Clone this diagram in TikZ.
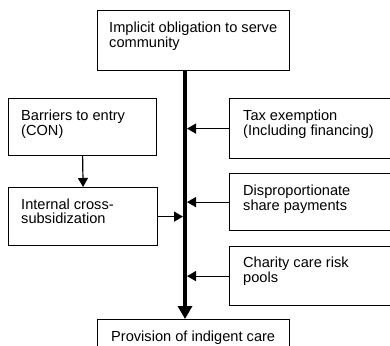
\documentclass[tikz,border=0pt]{standalone}
\usepackage{fontspec}
\setmainfont{Liberation Sans}
\usetikzlibrary{arrows.meta}
\tikzset{
  box/.style={draw, line width=1.2pt, anchor=north west, inner sep=0pt},
  txt/.style={anchor=north west, inner sep=0pt, align=left, font=\fontsize{14.6}{13.5}\selectfont},
  thin arrow/.style={line width=1.2pt, -{Triangle[length=9pt,width=10pt]}},
  thick arrow/.style={line width=4pt, -{Triangle[length=13pt,width=14pt]}}
}
\begin{document}
\begin{tikzpicture}[x=1pt,y=-1pt]
\useasboundingbox (0,0) rectangle (390,345);
% boxes
\node[box, minimum width=192pt, minimum height=60pt] (top) at (97,10) {};
\node[box, minimum width=148pt, minimum height=57pt] (barriers) at (8,98) {};
\node[box, minimum width=149pt, minimum height=58pt] (internal) at (8,187) {};
\node[box, minimum width=166pt, minimum height=60pt] (tax) at (229,98) {};
\node[box, minimum width=166pt, minimum height=57pt] (disp) at (229,173) {};
\node[box, minimum width=166pt, minimum height=59pt] (charity) at (229,246) {};
\node[box, minimum width=192pt, minimum height=41pt] (bottom) at (97,319) {};
% texts
\node[txt] (ttop) at ([xshift=12pt,yshift=-12pt]top.north west) {Implicit obligation to serve\\community};
\node[txt] (tbar) at ([xshift=13pt,yshift=-12pt]barriers.north west) {Barriers to entry\\(CON)};
\node[txt] (tint) at ([xshift=13pt,yshift=-12pt]internal.north west) {Internal cross-\\subsidization};
\node[txt] (ttax) at ([xshift=14pt,yshift=-12pt]tax.north west) {Tax exemption\\(Including financing)};
\node[txt] (tdisp) at ([xshift=14pt,yshift=-12pt]disp.north west) {Disproportionate\\share payments};
\node[txt] (tchar) at ([xshift=14pt,yshift=-11pt]charity.north west) {Charity care risk\\pools};
\node[txt] (tbot) at ([xshift=14pt,yshift=-12pt]bottom.north west) {Provision of indigent care};
% spine
\coordinate (spine) at (185,0);
\coordinate (spineL) at (183,0);
\coordinate (spineR) at (187,0);
\draw[thick arrow] (top.south -| spine) -- (bottom.north -| spine);
% connectors
\draw[thin arrow] (barriers.south) -- (internal.north);
\draw[thin arrow] (internal.east) -- (internal.east -| spineL);
\draw[thin arrow] (tax.west) -- (tax.west -| spineR);
\draw[thin arrow] (disp.west) -- (disp.west -| spineR);
\draw[thin arrow] (charity.west) -- (charity.west -| spineR);
\end{tikzpicture}
\end{document}
